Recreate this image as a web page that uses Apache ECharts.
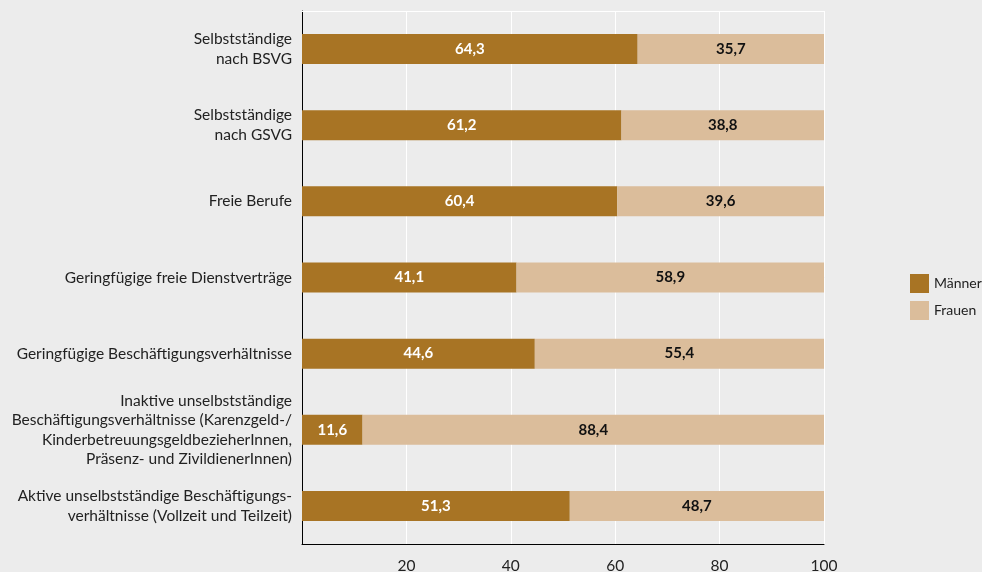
<!DOCTYPE html>
<html>
<head>
<meta charset="utf-8">
<script src="https://cdn.jsdelivr.net/npm/echarts@6/dist/echarts.min.js"></script>
<style>
  html, body { margin: 0; padding: 0; background: #ececec; }
  #chart { width: 982px; height: 572px; }
</style>
</head>
<body>
<div id="chart"></div>
<script>
// Kategorien von oben nach unten
var categories = [
  'Selbstständige\nnach BSVG',
  'Selbstständige\nnach GSVG',
  'Freie Berufe',
  'Geringfügige freie Dienstverträge',
  'Geringfügige Beschäftigungsverhältnisse',
  'Inaktive unselbstständige\nBeschäftigungsverhältnisse (Karenzgeld-/\nKinderbetreuungsgeldbezieherInnen,\nPräsenz- und ZivildienerInnen)',
  'Aktive unselbstständige Beschäftigungs-\nverhältnisse (Vollzeit und Teilzeit)'
];
var maenner = [64.3, 61.2, 60.4, 41.1, 44.6, 11.6, 51.3];
var frauen = [35.7, 38.8, 39.6, 58.9, 55.4, 88.4, 48.7];

var fontFamily = 'Lato, "Noto Sans", sans-serif';

function fmt(p) {
  return p.value.toFixed(1).replace('.', ',');
}

var myChart = echarts.init(document.getElementById('chart'));
myChart.setOption({
  backgroundColor: '#ececec',
  textStyle: { fontFamily: fontFamily },
  animation: false,
  legend: {
    orient: 'vertical',
    left: 905,
    top: 269,
    icon: 'rect',
    itemWidth: 19,
    itemHeight: 19,
    itemGap: 8,
    textStyle: { fontSize: 14, color: '#222', fontFamily: fontFamily },
    data: ['Männer', 'Frauen']
  },
  grid: { left: 302, right: 158, top: 11, bottom: 28, outerBoundsMode: 'none' },
  xAxis: [{
    type: 'value',
    min: 0,
    max: 100,
    interval: 20,
    axisLine: { show: true, lineStyle: { color: '#000', width: 1 } },
    axisTick: { show: false },
    axisLabel: {
      showMinLabel: false,
      margin: 14,
      fontSize: 15.5,
      color: '#222',
      fontFamily: fontFamily
    },
    splitLine: { show: true, lineStyle: { color: '#fff', width: 1 } }
  }, {
    type: 'value',
    position: 'top',
    min: 0,
    max: 100,
    axisLine: { show: true, lineStyle: { color: '#fff', width: 1 } },
    axisTick: { show: false },
    axisLabel: { show: false },
    splitLine: { show: false }
  }],
  yAxis: {
    type: 'category',
    inverse: true,
    data: categories,
    axisLine: { show: true, lineStyle: { color: '#000', width: 1 } },
    axisTick: { show: false },
    axisLabel: {
      margin: 10,
      fontSize: 15.5,
      lineHeight: 19.5,
      color: '#222',
      align: 'right',
      fontFamily: fontFamily
    }
  },
  series: [{
    name: 'Männer',
    type: 'bar',
    stack: 'gesamt',
    barWidth: 30,
    data: maenner,
    itemStyle: { color: '#a87424' },
    label: {
      show: true,
      position: 'inside',
      formatter: fmt,
      color: '#fff',
      fontWeight: 'bold',
      fontSize: 15,
      fontFamily: fontFamily
    }
  }, {
    name: 'Frauen',
    type: 'bar',
    stack: 'gesamt',
    barWidth: 30,
    data: frauen,
    itemStyle: { color: '#dbbd9b' },
    label: {
      show: true,
      position: 'inside',
      formatter: fmt,
      color: '#111',
      fontWeight: 'bold',
      fontSize: 15,
      fontFamily: fontFamily
    }
  }]
});
</script>
</body>
</html>
